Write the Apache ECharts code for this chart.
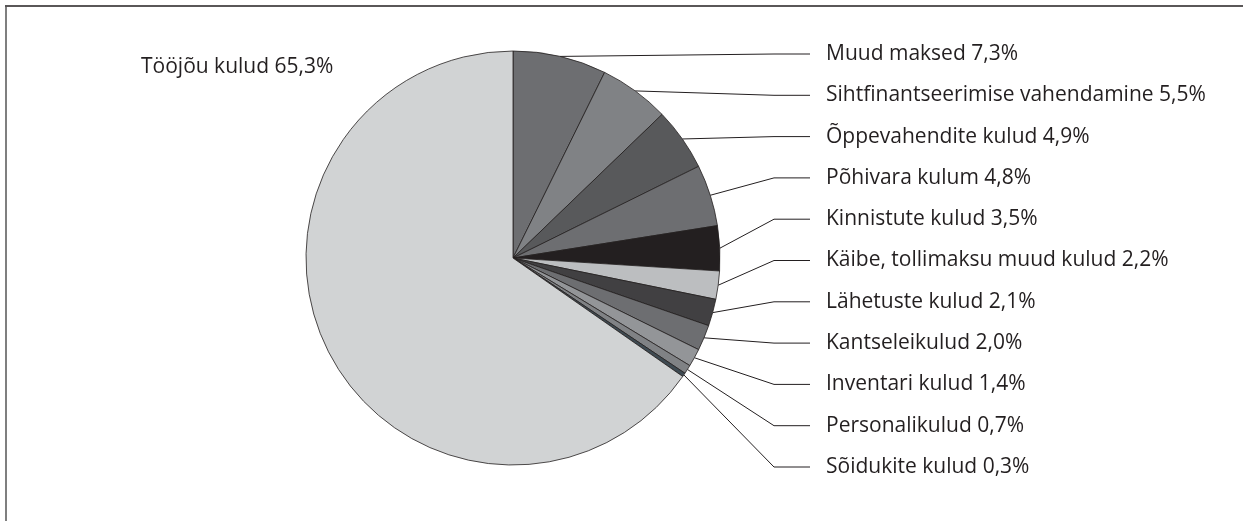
<!DOCTYPE html>
<html>
<head>
<meta charset="utf-8">
<script src="https://cdn.jsdelivr.net/npm/echarts@6/dist/echarts.min.js"></script>
<style>
html,body{margin:0;padding:0;background:#fff;}
#main{width:1243px;height:521px;}
</style>
</head>
<body>
<div id="main"></div>
<script>
const categories = [
  'Muud maksed',
  'Sihtfinantseerimise vahendamine',
  'Õppevahendite kulud',
  'Põhivara kulum',
  'Kinnistute kulud',
  'Käibe, tollimaksu muud kulud',
  'Lähetuste kulud',
  'Kantseleikulud',
  'Inventari kulud',
  'Personalikulud',
  'Sõidukite kulud',
  'Tööjõu kulud'
];
const values = [7.3, 5.5, 4.9, 4.8, 3.5, 2.2, 2.1, 2.0, 1.4, 0.7, 0.3, 65.3];
const colors = ['#6d6e71', '#808285', '#58595b', '#6d6e71', '#231f20', '#bcbec0',
                '#414042', '#6d6e71', '#939598', '#808285', '#3e4a52', '#d1d3d4'];

const chart = echarts.init(document.getElementById('main'));
const FONT = "'Open Sans', sans-serif";
const LABEL_X = 826, LINE_ELBOW = 774, LINE_END = 810, TOP_Y = 54, STEP = 41.3;

chart.setOption({
  animation: false,
  graphic: [
    { type: 'line', shape: { x1: 5, y1: 6, x2: 1243, y2: 6 }, style: { stroke: '#231f20', lineWidth: 1.5 } },
    { type: 'line', shape: { x1: 6, y1: 6, x2: 6, y2: 521 }, style: { stroke: '#555', lineWidth: 1.5 } }
  ],
  series: [{
    type: 'pie',
    center: [513, 258],
    radius: 207,
    startAngle: 90,
    clockwise: true,
    avoidLabelOverlap: false,
    itemStyle: { borderColor: '#231f20', borderWidth: 0.8 },
    label: {
      show: true,
      position: 'outside',
      color: '#231f20',
      fontFamily: FONT,
      fontSize: 21,
      formatter: p => p.name + ' ' + p.value.toFixed(1).replace('.', ',') + '%'
    },
    labelLine: { show: true, length: 20, length2: 20, lineStyle: { color: '#231f20', width: 1 } },
    emphasis: { disabled: true },
    labelLayout: function (params) {
      const i = params.dataIndex;
      if (i === categories.length - 1) {
        return { x: 141, y: 67, align: 'left', verticalAlign: 'middle' };
      }
      const y = TOP_Y + i * STEP;
      const p0 = params.labelLinePoints ? params.labelLinePoints[0] : [LINE_ELBOW, y];
      return {
        x: LABEL_X, y: y, align: 'left', verticalAlign: 'middle',
        labelLinePoints: [p0, [LINE_ELBOW, y], [LINE_END, y]]
      };
    },
    data: categories.map((c, i) => ({
      name: c,
      value: values[i],
      itemStyle: { color: colors[i] },
      labelLine: { show: i !== categories.length - 1 }
    }))
  }]
});
</script>
</body>
</html>
